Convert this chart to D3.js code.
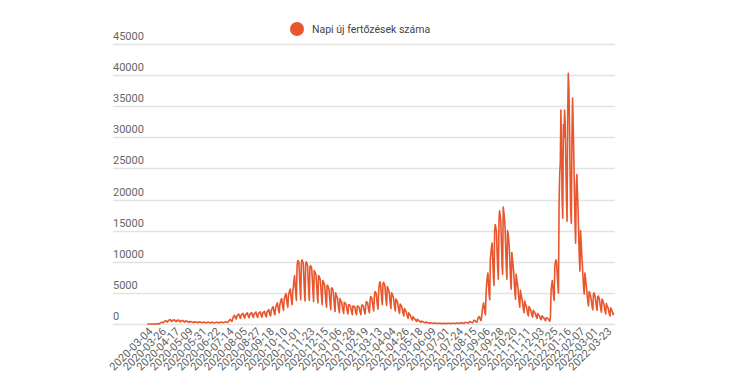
<!DOCTYPE html>
<html>
<head>
<meta charset="utf-8">
<script src="https://cdn.jsdelivr.net/npm/d3@7"></script>
<style>
  body { margin: 0; background: #fff; }
  svg { font-family: Roboto, "Noto Sans", sans-serif; }
</style>
</head>
<body>
<div id="chart"></div>
<script>
// daily new infections, one row per week (Wed..Tue), starting 2020-03-04
const values = [
  1, 0, 1, 3, 2, 3, 5,
  4, 3, 6, 8, 5, 6, 11,
  18, 22, 28, 33, 24, 20, 35,
  150, 200, 260, 300, 240, 180, 320,
  420, 500, 560, 470, 380, 300, 520,
  600, 680, 720, 560, 450, 380, 640,
  560, 620, 700, 520, 420, 360, 600,
  520, 580, 640, 480, 380, 330, 560,
  480, 520, 580, 430, 350, 300, 500,
  400, 440, 480, 360, 300, 260, 420,
  320, 360, 380, 300, 260, 220, 340,
  300, 330, 340, 280, 240, 200, 310,
  280, 300, 320, 260, 220, 190, 290,
  260, 280, 300, 240, 210, 180, 270,
  250, 270, 280, 230, 200, 170, 260,
  240, 260, 280, 230, 200, 170, 250,
  250, 270, 290, 240, 210, 180, 260,
  260, 290, 320, 260, 220, 190, 280,
  300, 340, 380, 300, 260, 230, 360,
  500, 620, 760, 600, 480, 420, 800,
  1100, 1300, 1400, 1150, 900, 800, 1300,
  1400, 1550, 1600, 1300, 1050, 900, 1450,
  1500, 1650, 1700, 1350, 1100, 950, 1550,
  1550, 1700, 1800, 1400, 1150, 1000, 1600,
  1600, 1750, 1850, 1450, 1200, 1050, 1650,
  1650, 1800, 1900, 1500, 1200, 1050, 1700,
  1700, 1850, 1950, 1550, 1250, 1100, 1800,
  1800, 1950, 2050, 1600, 1300, 1150, 1900,
  2000, 2200, 2300, 1800, 1450, 1300, 2150,
  2400, 2650, 2800, 2200, 1750, 1500, 2600,
  2900, 3200, 3400, 2700, 2100, 1800, 3100,
  3500, 3900, 4100, 3300, 2600, 2200, 3800,
  4300, 4700, 4900, 4000, 3200, 2700, 4600,
  5000, 5400, 5600, 4600, 3700, 3100, 5300,
  6000, 7000, 7800, 6200, 4800, 3800, 9200,
  10100, 10200, 9900, 7800, 5500, 3900, 9800,
  10300, 10100, 9800, 7600, 5300, 3700, 9600,
  10000, 9800, 9500, 7400, 5200, 3800, 9200,
  9400, 9200, 8800, 7000, 5000, 3600, 8600,
  8400, 8200, 7800, 6200, 4600, 3400, 7800,
  7600, 7400, 7000, 5600, 4200, 3100, 7000,
  6800, 6500, 6200, 5000, 3600, 2700, 6200,
  6200, 5900, 5600, 4300, 3100, 2300, 5700,
  5800, 5600, 5200, 4000, 2800, 2000, 5000,
  4600, 4400, 4100, 3200, 2400, 1800, 4100,
  3800, 3600, 3400, 2700, 2100, 1700, 3500,
  3400, 3300, 3100, 2500, 2000, 1600, 3100,
  3100, 3000, 2900, 2300, 1900, 1500, 2900,
  2900, 2800, 2800, 2200, 1800, 1500, 2800,
  2900, 2800, 2700, 2200, 1800, 1500, 2800,
  3100, 3000, 2900, 2300, 1900, 1600, 3100,
  3600, 3500, 3400, 2700, 2100, 1800, 3700,
  4400, 4300, 4100, 3300, 2600, 2100, 4400,
  5200, 5100, 4900, 3900, 3000, 2400, 5300,
  6300, 6800, 6500, 5200, 3900, 3100, 6400,
  6700, 6500, 6200, 5000, 3800, 3000, 6000,
  5800, 5500, 5200, 4200, 3200, 2500, 5000,
  4900, 4600, 4300, 3500, 2700, 2100, 4000,
  3900, 3700, 3400, 2700, 2100, 1700, 3200,
  3100, 2900, 2600, 2100, 1600, 1300, 2500,
  2300, 2100, 1900, 1500, 1200, 900, 1800,
  1600, 1500, 1300, 1000, 800, 600, 1200,
  1000, 900, 800, 650, 500, 400, 750,
  650, 600, 520, 420, 330, 270, 480,
  400, 380, 330, 270, 220, 180, 320,
  260, 240, 220, 180, 150, 120, 210,
  180, 170, 150, 130, 110, 90, 150,
  140, 130, 120, 100, 90, 70, 120,
  120, 110, 100, 90, 80, 60, 100,
  110, 100, 100, 80, 70, 60, 100,
  110, 110, 100, 90, 80, 60, 110,
  130, 120, 110, 100, 90, 70, 120,
  150, 140, 130, 110, 100, 80, 140,
  190, 180, 170, 140, 120, 100, 180,
  260, 250, 230, 190, 160, 130, 250,
  380, 360, 330, 270, 220, 180, 360,
  600, 580, 540, 430, 350, 280, 600,
  1000, 1100, 1200, 900, 700, 550, 1400,
  2400, 2900, 3400, 2600, 1900, 1500, 4800,
  6600, 7500, 8200, 6400, 4800, 3900, 10500,
  11400, 12500, 13000, 10000, 7500, 6200, 15000,
  16000, 15500, 14800, 11500, 8800, 7200, 16500,
  18200, 17500, 16500, 13000, 9600, 8000, 18800,
  18000, 17000, 15500, 12000, 9000, 7200, 15000,
  14500, 13500, 12000, 9400, 7000, 5600, 11500,
  10500, 9500, 8500, 6600, 5000, 4000, 8000,
  7200, 6500, 5800, 4500, 3400, 2700, 5400,
  4800, 4300, 3800, 3000, 2300, 1800, 3700,
  3300, 3000, 2700, 2100, 1600, 1300, 2800,
  2600, 2400, 2200, 1700, 1300, 1100, 2200,
  2000, 1900, 1700, 1400, 1100, 900, 1700,
  1500, 1400, 1300, 1000, 800, 700, 1300,
  1200, 1100, 1000, 800, 650, 550, 1000,
  1000, 900, 850, 700, 550, 450, 1300,
  5500, 6200, 7000, 5800, 4500, 3800, 9200,
  10000, 10300, 9800, 8000, 6200, 5000, 19400,
  24000, 26000, 34400, 28000, 20000, 17000, 32000,
  30000, 34400, 32000, 26000, 20000, 16500, 33000,
  40300, 38000, 32000, 24000, 18000, 16200, 30000,
  36300, 32000, 27000, 21000, 16000, 13000, 22000,
  24000, 21000, 18300, 14000, 10500, 8500, 15000,
  13000, 11000, 9500, 7400, 5800, 4800, 8200,
  7500, 6500, 5500, 4400, 3500, 2900, 5200,
  5000, 4600, 4200, 3400, 2700, 2300, 4800,
  5000, 4700, 4300, 3400, 2700, 2200, 4400,
  4500, 4200, 3800, 3000, 2400, 1900, 4000,
  3800, 3500, 3200, 2500, 2000, 1600, 3300,
  3000, 2800, 2500, 2000, 1600, 1300, 2600,
  2400, 2200, 1900, 1500, 1800
];
const startDate = "2020-03-04";
const missingDates = ["2021-07-12"];   // one day absent from the source table
const yTicks = [0, 5000, 10000, 15000, 20000, 25000, 30000, 35000, 40000, 45000];
const seriesName = "Napi új fertőzések száma";
const labelEvery = 22;

const W = 732, H = 385;
const color = "#e8562e";
const plotLeft = 147, plotRight = 614, gridLeft = 113, gridRight = 615;
const plotTop = 44, plotBottom = 324;

const fmt = d3.timeFormat("%Y-%m-%d");
const dates = [];
let day = d3.timeParse("%Y-%m-%d")(startDate);
while (dates.length < values.length) {
  const s = fmt(day);
  if (!missingDates.includes(s)) dates.push(s);
  day = d3.timeDay.offset(day, 1);
}
const data = dates.map((d, i) => ({ date: d, value: values[i] }));

const svg = d3.select("#chart").append("svg")
    .attr("width", W)
    .attr("height", H);

const x = d3.scalePoint().domain(dates).range([plotLeft, plotRight]).padding(0.5);
const y = d3.scaleLinear().domain([0, 45000]).range([plotBottom, plotTop]);

// gridlines + labels sitting on top of them
const grid = svg.append("g");
grid.selectAll("line")
    .data(yTicks)
    .enter().append("line")
    .attr("x1", gridLeft).attr("x2", gridRight)
    .attr("y1", d => Math.round(y(d)) + 0.5)
    .attr("y2", d => Math.round(y(d)) + 0.5)
    .attr("stroke", "#e3e3e3")
    .attr("stroke-width", 1.5);
grid.selectAll("text")
    .data(yTicks)
    .enter().append("text")
    .attr("x", gridLeft)
    .attr("y", d => y(d) - 4)
    .attr("fill", "#666")
    .style("font-size", "11px")
    .text(d => d);

// x axis, labels turned 45 degrees and hung from the tick
const xAxis = svg.append("g")
    .attr("transform", `translate(0,${plotBottom + 8})`)
    .call(d3.axisBottom(x).tickValues(dates.filter((d, i) => i % labelEvery === 0)).tickSize(0).tickPadding(0));
xAxis.select(".domain").remove();
xAxis.selectAll("text")
    .attr("fill", "#5f5f5f")
    .style("font-size", "11px")
    .style("font-family", "Roboto, sans-serif")
    .attr("text-anchor", "end")
    .attr("y", 0)
    .attr("dy", 0)
    .attr("transform", "translate(5.5,0) rotate(-45)");

// the series
const line = d3.line().x(d => x(d.date)).y(d => y(d.value));
svg.append("path")
    .datum(data)
    .attr("fill", "none")
    .attr("stroke", color)
    .attr("stroke-width", 1.6)
    .attr("stroke-linejoin", "round")
    .attr("d", line);

// legend
const legend = svg.append("g");
legend.append("circle")
    .attr("cx", 297).attr("cy", 29).attr("r", 7)
    .attr("fill", color);
legend.append("text")
    .attr("x", 312).attr("y", 33)
    .attr("fill", "#444")
    .style("font-size", "10.5px")
    .text(seriesName);
</script>
</body>
</html>
